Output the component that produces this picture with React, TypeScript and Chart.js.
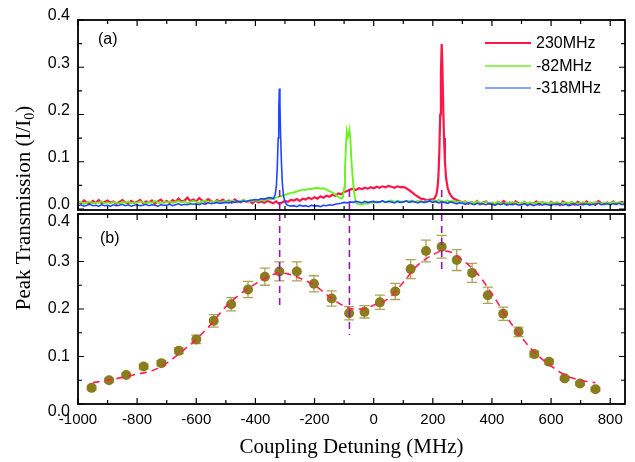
import { useEffect, useRef } from 'react';
import { Chart, registerables } from 'chart.js';

Chart.register(...registerables);

// ---------- axis ticks ----------
const xTickValues = [-1000, -800, -600, -400, -200, 0, 200, 400, 600, 800];
const yTickValues = [0, 0.1, 0.2, 0.3, 0.4];

// ---------- panel (a): spectra, sampled every 10 MHz from -1000 MHz ----------
const seriesNames = ['230MHz', '-82MHz', '-318MHz'];
const gridStart = -1000;
const gridStep = 10;

const red230Bg = [
  0.016, 0.012, 0.018, 0.014, 0.011, 0.017, 0.013, 0.019, 0.012, 0.015,
  0.018, 0.013, 0.016, 0.011, 0.015, 0.019, 0.014, 0.012, 0.017, 0.013,
  0.015, 0.019, 0.012, 0.016, 0.014, 0.018, 0.011, 0.016, 0.020, 0.014,
  0.017, 0.013, 0.019, 0.015, 0.022, 0.016, 0.018, 0.024, 0.017, 0.020,
  0.016, 0.023, 0.018, 0.015, 0.021, 0.017, 0.013, 0.019, 0.016, 0.020,
  0.015, 0.018, 0.013, 0.020, 0.016, 0.014, 0.019, 0.015, 0.017, 0.012,
  0.018, 0.014, 0.016, 0.013, 0.017, 0.015, 0.012, 0.016, 0.011, 0.014,
  0.017, 0.015, 0.019, 0.018, 0.021, 0.017, 0.022, 0.020, 0.024, 0.021,
  0.025, 0.022, 0.027, 0.024, 0.028, 0.026, 0.030, 0.028, 0.033, 0.031,
  0.036, 0.038, 0.041, 0.043, 0.040, 0.044, 0.042, 0.045, 0.043, 0.046,
  0.044, 0.047, 0.045, 0.048, 0.046, 0.049, 0.047, 0.045, 0.048, 0.046,
  0.047, 0.044, 0.040, 0.035, 0.030, 0.026, 0.022, 0.021, 0.018, 0.020,
  0.021, null, null, null, null, null, null, null, 0.019, 0.017,
  0.014, 0.016, 0.011, 0.015, 0.012, 0.017, 0.010, 0.014, 0.016, 0.011,
  0.013, 0.009, 0.015, 0.012, 0.017, 0.010, 0.014, 0.011, 0.016, 0.012,
  0.010, 0.015, 0.008, 0.013, 0.011, 0.016, 0.009, 0.014, 0.012, 0.010,
  0.015, 0.011, 0.013, 0.008, 0.016, 0.012, 0.010, 0.014, 0.009, 0.015,
  0.012, 0.010, 0.016, 0.011, 0.013, 0.009, 0.017, 0.012, 0.010, 0.014,
  0.011, 0.016, 0.010, 0.013, 0.015, 0.012,
];
const red230PeakX = [205, 212, 216, 219, 222, 225, 227.5, 230, 232.5, 235, 238, 241, 245, 250, 256, 263, 270, 278];
const red230PeakY = [0.022, 0.03, 0.045, 0.07, 0.12, 0.2, 0.29, 0.349, 0.3, 0.22, 0.15, 0.1, 0.065, 0.045, 0.034, 0.027, 0.022, 0.02];

const green82Bg = [
  0.013, 0.015, 0.011, 0.014, 0.016, 0.012, 0.014, 0.013, 0.016, 0.012,
  0.014, 0.012, 0.015, 0.013, 0.011, 0.015, 0.013, 0.016, 0.012, 0.014,
  0.013, 0.016, 0.014, 0.012, 0.015, 0.013, 0.017, 0.014, 0.012, 0.015,
  0.014, 0.016, 0.013, 0.015, 0.017, 0.014, 0.016, 0.013, 0.015, 0.017,
  0.015, 0.013, 0.016, 0.018, 0.014, 0.016, 0.015, 0.017, 0.014, 0.016,
  0.017, 0.015, 0.018, 0.016, 0.014, 0.017, 0.019, 0.016, 0.018, 0.017,
  0.019, 0.017, 0.020, 0.018, 0.021, 0.020, 0.022, 0.024, 0.026, 0.028,
  0.030, 0.032, 0.034, 0.035, 0.037, 0.039, 0.041, 0.040, 0.043, 0.042,
  0.044, 0.045, 0.043, 0.044, 0.041, 0.038, 0.035, 0.031, 0.026, 0.022,
  null, null, null, null, null, 0.010, 0.009, 0.012, 0.011, 0.014,
  0.013, 0.016, 0.014, 0.017, 0.015, 0.016, 0.018, 0.015, 0.017, 0.016,
  0.015, 0.017, 0.016, 0.018, 0.015, 0.017, 0.016, 0.014, 0.017, 0.016,
  0.018, 0.016, 0.019, 0.017, 0.015, 0.018, 0.016, 0.017, 0.015, 0.016,
  0.014, 0.016, 0.013, 0.015, 0.012, 0.016, 0.014, 0.013, 0.015, 0.012,
  0.014, 0.012, 0.015, 0.013, 0.011, 0.014, 0.012, 0.015, 0.013, 0.011,
  0.013, 0.015, 0.012, 0.014, 0.011, 0.013, 0.015, 0.012, 0.014, 0.012,
  0.014, 0.012, 0.015, 0.011, 0.013, 0.014, 0.012, 0.015, 0.013, 0.011,
  0.013, 0.015, 0.012, 0.014, 0.012, 0.015, 0.013, 0.011, 0.014, 0.013,
  0.012, 0.015, 0.013, 0.014, 0.012, 0.015,
];
const green82PeakX = [-104, -100, -97, -94, -91, -88, -85, -82, -79, -76, -72, -68, -64, -58];
const green82PeakY = [0.025, 0.045, 0.085, 0.13, 0.163, 0.152, 0.157, 0.168, 0.15, 0.11, 0.075, 0.045, 0.025, 0.012];

const blue318Bg = [
  0.007, 0.009, 0.006, 0.008, 0.010, 0.007, 0.008, 0.006, 0.009, 0.007,
  0.008, 0.006, 0.009, 0.007, 0.008, 0.010, 0.007, 0.009, 0.006, 0.008,
  0.009, 0.007, 0.008, 0.010, 0.007, 0.009, 0.008, 0.006, 0.009, 0.008,
  0.008, 0.010, 0.007, 0.009, 0.011, 0.008, 0.010, 0.009, 0.011, 0.010,
  0.011, 0.009, 0.012, 0.010, 0.013, 0.011, 0.012, 0.014, 0.012, 0.013,
  0.014, 0.013, 0.015, 0.014, 0.016, 0.015, 0.017, 0.016, 0.018, 0.019,
  0.020, 0.019, 0.022, 0.021, 0.023, 0.024, 0.022, null, null, null,
  null, 0.008, 0.006, 0.007, 0.005, 0.008, 0.006, 0.007, 0.005, 0.008,
  0.006, 0.007, 0.005, 0.008, 0.007, 0.009, 0.008, 0.010, 0.011, 0.012,
  0.014, 0.013, 0.015, 0.014, 0.016, 0.015, 0.013, 0.016, 0.014, 0.015,
  0.016, 0.014, 0.015, 0.017, 0.014, 0.016, 0.015, 0.013, 0.016, 0.014,
  0.015, 0.017, 0.014, 0.016, 0.015, 0.013, 0.016, 0.014, 0.015, 0.017,
  0.014, 0.016, 0.013, 0.015, 0.014, 0.012, 0.015, 0.013, 0.011, 0.013,
  0.012, 0.010, 0.013, 0.011, 0.009, 0.012, 0.010, 0.011, 0.009, 0.012,
  0.010, 0.008, 0.011, 0.009, 0.012, 0.008, 0.010, 0.009, 0.011, 0.008,
  0.009, 0.011, 0.008, 0.010, 0.007, 0.009, 0.011, 0.008, 0.010, 0.009,
  0.008, 0.010, 0.009, 0.011, 0.008, 0.010, 0.007, 0.009, 0.011, 0.008,
  0.010, 0.009, 0.011, 0.008, 0.010, 0.009, 0.012, 0.009, 0.010, 0.011,
  0.009, 0.011, 0.010, 0.012, 0.009, 0.011,
];
const blue318PeakX = [-338, -333, -329, -326, -323, -321, -319, -317, -315, -312, -309, -305, -300, -294];
const blue318PeakY = [0.024, 0.03, 0.05, 0.09, 0.15, 0.21, 0.255, 0.22, 0.16, 0.1, 0.055, 0.028, 0.015, 0.009];

// ---------- panel (b): peak transmission vs detuning ----------
const pointX = [-954, -895, -837, -778, -718, -659, -600, -541, -482, -425, -368, -319, -260, -202, -142, -83, -31, 21, 73, 125, 177, 230, 281, 333, 386, 438, 490, 543, 593, 646, 698, 750];
const pointY = [0.034, 0.05, 0.061, 0.079, 0.086, 0.112, 0.136, 0.175, 0.21, 0.241, 0.268, 0.279, 0.279, 0.253, 0.222, 0.191, 0.194, 0.214, 0.237, 0.284, 0.322, 0.331, 0.303, 0.276, 0.229, 0.19, 0.152, 0.105, 0.089, 0.054, 0.043, 0.031];
const pointErr = [0.004, 0.004, 0.004, 0.005, 0.005, 0.006, 0.009, 0.013, 0.014, 0.017, 0.018, 0.02, 0.02, 0.017, 0.016, 0.014, 0.013, 0.015, 0.017, 0.02, 0.023, 0.024, 0.022, 0.02, 0.017, 0.014, 0.01, 0.006, 0.005, 0.004, 0.004, 0.004];

const fitX = [-950, -900, -850, -800, -750, -700, -650, -600, -550, -500, -450, -400, -350, -320, -290, -250, -200, -150, -100, -70, -40, 0, 50, 100, 150, 200, 230, 260, 300, 350, 400, 450, 500, 550, 600, 650, 700, 750];
const fitY = [0.045, 0.05, 0.056, 0.063, 0.07, 0.086, 0.11, 0.136, 0.168, 0.205, 0.232, 0.253, 0.27, 0.276, 0.274, 0.265, 0.25, 0.226, 0.206, 0.2, 0.2, 0.208, 0.222, 0.256, 0.293, 0.314, 0.322, 0.32, 0.303, 0.275, 0.232, 0.183, 0.14, 0.105, 0.08, 0.06, 0.05, 0.045];

// resonance markers (coupling detuning, lower end in panel b)
const markerX = [-318, -82, 230];
const markerLowY = [0.202, 0.145, 0.282];

// ---------- styling ----------
const RED = '#ff1648';
const GREEN = '#6cf020';
const BLUE = '#1e46ff';
const OLIVE = '#8a7d1e';
const ERR = '#aca258';
const FIT = '#ff1e55';
const PURPLE = '#8e1aa6';
const SANS = '"Liberation Sans", Arial, sans-serif';
const SERIF = '"Liberation Serif", "Times New Roman", serif';

function buildTrace(bg: (number | null)[], peakX: number[], peakY: number[]) {
  const pts: { x: number; y: number }[] = [];
  bg.forEach((v, i) => {
    if (v !== null) pts.push({ x: gridStart + i * gridStep, y: v });
  });
  peakX.forEach((x, i) => pts.push({ x, y: peakY[i] }));
  pts.sort((a, b) => a.x - b.x);
  return pts;
}

const figurePlugin = {
  id: 'figurePlugin',
  beforeDatasetsDraw(chart: any) {
    const { ctx } = chart;
    const xs = chart.scales.x;
    const yb = chart.scales.yBot;
    ctx.save();
    ctx.strokeStyle = ERR;
    ctx.lineWidth = 1.3;
    pointX.forEach((xv, i) => {
      const px = xs.getPixelForValue(xv);
      const t = yb.getPixelForValue(pointY[i] + pointErr[i]);
      const b = yb.getPixelForValue(pointY[i] - pointErr[i]);
      ctx.beginPath();
      ctx.moveTo(px, t);
      ctx.lineTo(px, b);
      ctx.moveTo(px - 5, t);
      ctx.lineTo(px + 5, t);
      ctx.moveTo(px - 5, b);
      ctx.lineTo(px + 5, b);
      ctx.stroke();
    });
    ctx.restore();
  },
  afterDatasetsDraw(chart: any) {
    const { ctx, chartArea } = chart;
    const xs = chart.scales.x;
    const yt = chart.scales.yTop;
    const yb = chart.scales.yBot;
    const left = chartArea.left;
    const right = chartArea.right;

    ctx.save();
    // purple dashed resonance markers
    ctx.strokeStyle = PURPLE;
    ctx.lineWidth = 1.6;
    ctx.setLineDash([7, 5]);
    markerX.forEach((xv, i) => {
      const px = xs.getPixelForValue(xv);
      ctx.beginPath();
      ctx.moveTo(px, yt.getPixelForValue(0.04));
      ctx.lineTo(px, yb.getPixelForValue(markerLowY[i]));
      ctx.stroke();
    });
    ctx.setLineDash([]);

    // frames + ticks
    const panels = [
      { s: yt, top: yt.getPixelForValue(0.4), bottom: yt.getPixelForValue(0) + 1 },
      { s: yb, top: yb.getPixelForValue(0.4), bottom: yb.getPixelForValue(0) },
    ];
    ctx.strokeStyle = '#000';
    panels.forEach((p) => {
      ctx.lineWidth = 1.8;
      ctx.strokeRect(left, p.top, right - left, p.bottom - p.top);
      ctx.lineWidth = 1.2;
      ctx.beginPath();
      for (let v = 0; v <= 0.4001; v += 0.05) {
        const major = Math.abs(v * 10 - Math.round(v * 10)) < 1e-6;
        const len = major ? 6 : 4;
        const py = p.s.getPixelForValue(v);
        ctx.moveTo(left, py);
        ctx.lineTo(left + len, py);
        ctx.moveTo(right, py);
        ctx.lineTo(right - len, py);
      }
      for (let xv = -1000; xv <= 850; xv += 100) {
        const major = xv % 200 === 0;
        const len = major ? 6 : 4;
        const px = xs.getPixelForValue(xv);
        ctx.moveTo(px, p.bottom);
        ctx.lineTo(px, p.bottom - len);
        ctx.moveTo(px, p.top);
        ctx.lineTo(px, p.top + len);
      }
      ctx.stroke();
    });

    // y tick labels
    ctx.fillStyle = '#000';
    ctx.font = `16px ${SANS}`;
    ctx.textAlign = 'right';
    ctx.textBaseline = 'middle';
    yTickValues.forEach((v) => {
      ctx.fillText(v.toFixed(1), 70, yt.getPixelForValue(v) - 4);
      let off = 0;
      if (v === 0 || v === 0.4) off = 8;
      ctx.fillText(v.toFixed(1), 70, yb.getPixelForValue(v) + off);
    });

    // x tick labels
    ctx.font = `15px ${SANS}`;
    ctx.textAlign = 'center';
    xTickValues.forEach((v) => {
      ctx.fillText(String(v), xs.getPixelForValue(v), 420);
    });

    // panel labels
    ctx.font = `16px ${SANS}`;
    ctx.textAlign = 'left';
    ctx.fillText('(a)', 98, 40);
    ctx.fillText('(b)', 100, 239);

    // legend
    const legendColors = [RED, GREEN, BLUE];
    const legendWidths = [2, 1.6, 1.2];
    const legendY = [43, 66, 88];
    seriesNames.forEach((name, i) => {
      ctx.strokeStyle = legendColors[i];
      ctx.lineWidth = legendWidths[i];
      ctx.beginPath();
      ctx.moveTo(485, legendY[i]);
      ctx.lineTo(531, legendY[i]);
      ctx.stroke();
      ctx.fillStyle = '#000';
      ctx.fillText(name, 536, legendY[i] + 1);
    });

    // x axis title
    ctx.font = `21px ${SERIF}`;
    ctx.textAlign = 'center';
    ctx.textBaseline = 'alphabetic';
    ctx.fillText('Coupling Detuning (MHz)', (left + right) / 2, 453);

    // y axis title with subscript
    ctx.translate(30, 208);
    ctx.rotate(-Math.PI / 2);
    const main = 'Peak Transmission (I/I';
    ctx.font = `21px ${SERIF}`;
    const w1 = ctx.measureText(main).width;
    const w3 = ctx.measureText(')').width;
    ctx.font = `14px ${SERIF}`;
    const w2 = ctx.measureText('0').width;
    const start = -(w1 + w2 + w3) / 2;
    ctx.textAlign = 'left';
    ctx.font = `21px ${SERIF}`;
    ctx.fillText(main, start, 0);
    ctx.font = `14px ${SERIF}`;
    ctx.fillText('0', start + w1, 4);
    ctx.font = `21px ${SERIF}`;
    ctx.fillText(')', start + w1 + w2, 0);
    ctx.restore();
  },
};

export default function App() {
  const canvasRef = useRef<HTMLCanvasElement | null>(null);

  useEffect(() => {
    if (!canvasRef.current) return;
    const redData = buildTrace(red230Bg, red230PeakX, red230PeakY);
    const greenData = buildTrace(green82Bg, green82PeakX, green82PeakY);
    const blueData = buildTrace(blue318Bg, blue318PeakX, blue318PeakY);
    const points = pointX.map((x, i) => ({ x, y: pointY[i] }));
    const fit = fitX.map((x, i) => ({ x, y: fitY[i] }));

    const hiddenAxis = {
      ticks: { display: false },
      grid: { display: false },
      border: { display: false },
    };

    const chart = new Chart(canvasRef.current, {
      type: 'line',
      data: {
        datasets: [
          { label: seriesNames[0], data: redData, yAxisID: 'yTop', borderColor: RED, borderWidth: 2.2, pointRadius: 0, order: 5 },
          { label: seriesNames[1], data: greenData, yAxisID: 'yTop', borderColor: GREEN, borderWidth: 1.9, pointRadius: 0, order: 4 },
          { label: seriesNames[2], data: blueData, yAxisID: 'yTop', borderColor: BLUE, borderWidth: 1.6, pointRadius: 0, order: 3 },
          { type: 'scatter', label: 'data', data: points, yAxisID: 'yBot', backgroundColor: OLIVE, borderWidth: 0, pointRadius: 5, order: 2 } as any,
          { label: 'fit', data: fit, yAxisID: 'yBot', borderColor: FIT, borderWidth: 1.6, borderDash: [7, 5], pointRadius: 0, cubicInterpolationMode: 'monotone', order: 1 },
        ],
      },
      options: {
        responsive: false,
        animation: false,
        devicePixelRatio: 1,
        layout: { padding: { top: 20, right: 10, left: 0, bottom: 0 } },
        plugins: { legend: { display: false }, tooltip: { enabled: false } },
        scales: {
          x: {
            type: 'linear',
            min: -1000,
            max: 850,
            ...hiddenAxis,
            afterFit: (s: any) => { s.height = 58; },
          },
          yBot: {
            type: 'linear',
            position: 'left',
            stack: 'panels',
            stackWeight: 1,
            min: 0,
            max: 0.4042,
            ...hiddenAxis,
            afterFit: (s: any) => { s.width = 78; },
          },
          yTop: {
            type: 'linear',
            position: 'left',
            stack: 'panels',
            stackWeight: 1,
            min: -0.00635,
            max: 0.4,
            ...hiddenAxis,
            afterFit: (s: any) => { s.width = 78; },
          },
        },
      } as any,
      plugins: [figurePlugin],
    });
    return () => chart.destroy();
  }, []);

  return (
    <div style={{ position: 'fixed', left: 0, top: 0, width: 635, height: 462, background: '#fff' }}>
      <canvas ref={canvasRef} width={635} height={462} style={{ width: 635, height: 462, display: 'block' }} />
    </div>
  );
}
